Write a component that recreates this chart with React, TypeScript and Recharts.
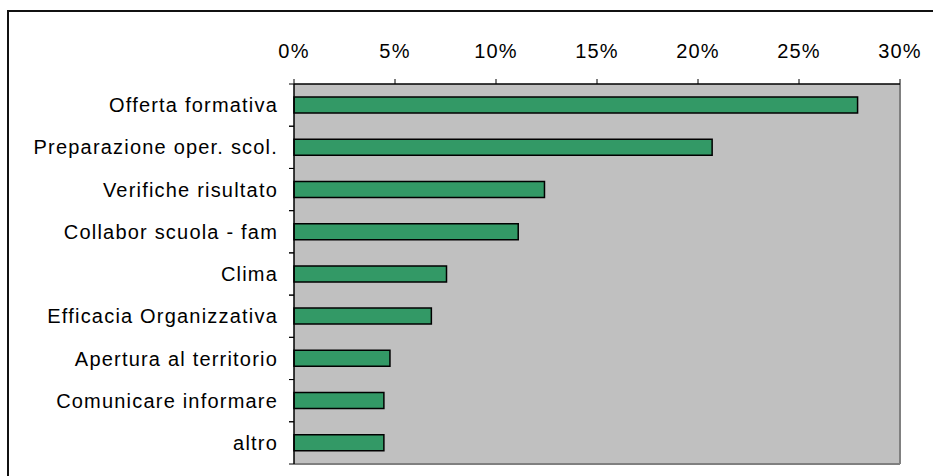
import React from "react";
import { BarChart, Bar, XAxis, YAxis, CartesianGrid } from "recharts";

const categories = [
  "Offerta formativa",
  "Preparazione oper. scol.",
  "Verifiche risultato",
  "Collabor scuola - fam",
  "Clima",
  "Efficacia Organizzativa",
  "Apertura al territorio",
  "Comunicare informare",
  "altro",
];
const values = [27.9, 20.7, 12.4, 11.1, 7.55, 6.8, 4.75, 4.45, 4.45];
const xTicks = [0, 5, 10, 15, 20, 25, 30];

const data = categories.map((name, i) => ({ name, value: values[i] }));

const CHART_W = 933;
const CHART_H = 476;
const MARGIN = { top: 0, right: 32, bottom: 11, left: 0 };
const TOP_AXIS_H = 84;
const BOTTOM_AXIS_H = 1;
const CAT_MARGIN = 16;
const BOUNDARY_TICK = 5;
const PLOT_H = CHART_H - MARGIN.top - MARGIN.bottom - TOP_AXIS_H - BOTTOM_AXIS_H;
const BAND = PLOT_H / categories.length;

const textStyle = { fill: "#000", fontSize: 20 };

function CategoryTick(props: any) {
  const { x, y, payload } = props;
  const axisX = x + CAT_MARGIN;
  return (
    <g>
      <text x={x} y={y} dy="0.355em" textAnchor="end" fill="#000" fontSize={20}>
        {payload.value}
      </text>
      <line x1={axisX - BOUNDARY_TICK} x2={axisX} y1={y - BAND / 2} y2={y - BAND / 2} stroke="#000" strokeWidth={1} />
      <line x1={axisX - BOUNDARY_TICK} x2={axisX} y1={y + BAND / 2} y2={y + BAND / 2} stroke="#000" strokeWidth={1} />
    </g>
  );
}

export default function App() {
  return (
    <div
      style={{
        position: "fixed",
        left: 0,
        top: 0,
        width: 933,
        height: 476,
        overflow: "hidden",
        background: "#fff",
        fontFamily: "'Liberation Sans', Arial, sans-serif",
        letterSpacing: "1.2px",
      }}
    >
      <div
        style={{
          position: "absolute",
          left: 7,
          top: 10,
          width: 1000,
          height: 600,
          border: "2px solid #111",
        }}
      />
      <div style={{ position: "absolute", left: 0, top: 0 }}>
        <BarChart
          width={CHART_W}
          height={CHART_H}
          data={data}
          layout="vertical"
          margin={MARGIN}
        >
          <CartesianGrid
            xAxisId="top"
            yAxisId="cat"
            fill="#c0c0c0"
            horizontal={false}
            vertical={false}
          />
          <XAxis
            xAxisId="bottom"
            type="number"
            orientation="bottom"
            domain={[0, 30]}
            height={BOTTOM_AXIS_H}
            tick={false}
            tickLine={false}
            axisLine={{ stroke: "#808080", strokeWidth: 2 }}
          />
          <YAxis
            yAxisId="right"
            type="number"
            orientation="right"
            domain={[0, 9]}
            width={1}
            tick={false}
            tickLine={false}
            axisLine={{ stroke: "#808080", strokeWidth: 2 }}
          />
          <XAxis
            xAxisId="top"
            type="number"
            orientation="top"
            domain={[0, 30]}
            ticks={xTicks}
            interval={0}
            tickFormatter={(v) => `${v}%`}
            height={TOP_AXIS_H}
            tickSize={5}
            tickMargin={21}
            axisLine={{ stroke: "#000", strokeWidth: 1.5 }}
            tickLine={{ stroke: "#000" }}
            tick={textStyle}
          />
          <YAxis
            yAxisId="cat"
            type="category"
            dataKey="name"
            width={294}
            interval={0}
            tickSize={0}
            tickMargin={CAT_MARGIN}
            axisLine={{ stroke: "#000", strokeWidth: 1.5 }}
            tickLine={false}
            tick={<CategoryTick />}
          />
          <Bar
            xAxisId="top"
            yAxisId="cat"
            dataKey="value"
            fill="#339966"
            stroke="#000"
            strokeWidth={1.5}
            barSize={16}
            isAnimationActive={false}
          />
        </BarChart>
      </div>
    </div>
  );
}
